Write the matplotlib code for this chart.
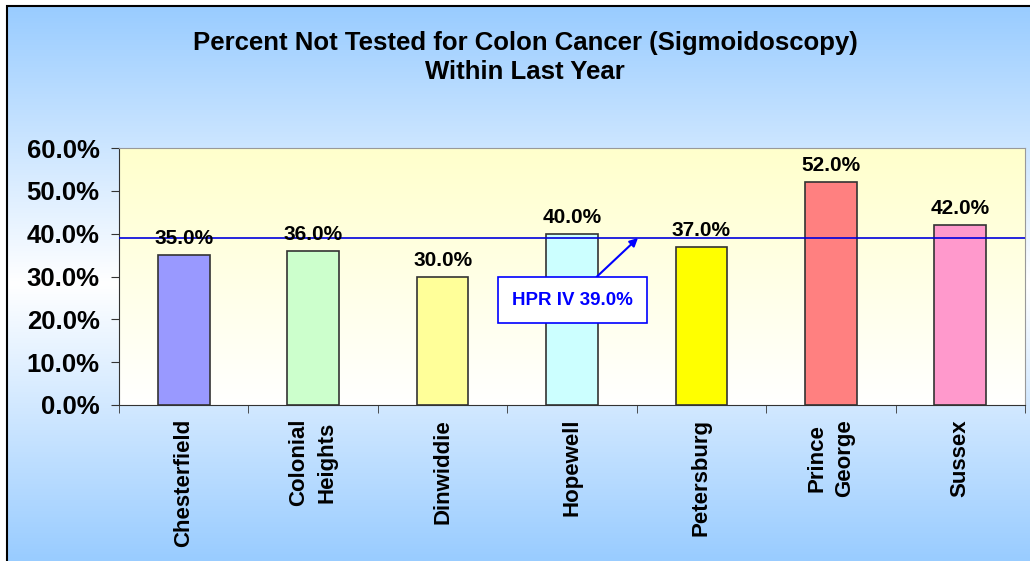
import numpy as np
import matplotlib
matplotlib.use("Agg")
import matplotlib.pyplot as plt
from matplotlib.colors import LinearSegmentedColormap
from matplotlib.patches import Rectangle

plt.rcParams["font.family"] = ["Liberation Sans", "DejaVu Sans"]
plt.rcParams["font.weight"] = "bold"

# Data
localities = ["Chesterfield", "Colonial\nHeights", "Dinwiddie", "Hopewell",
              "Petersburg", "Prince\nGeorge", "Sussex"]
pct_not_tested = [35.0, 36.0, 30.0, 40.0, 37.0, 52.0, 42.0]
bar_colors = ["#9999FF", "#CCFFCC", "#FFFF99", "#CCFFFF",
              "#FFFF00", "#FF8080", "#FF99CC"]
hpr_value = 39.0
hpr_label = "HPR IV 39.0%"

fig = plt.figure(figsize=(10.3, 5.61), dpi=100)
fig.patch.set_facecolor("white")

# Outer gradient background (blue - white - blue)
bg = fig.add_axes([7 / 1030, 0, 1 - 7 / 1030, 1 - 6 / 561], zorder=0)
bg_cmap = LinearSegmentedColormap.from_list(
    "bg", [(0, "#99CCFF"), (0.5, "#FFFFFF"), (1, "#99CCFF")])
bg.imshow(np.linspace(0, 1, 256).reshape(-1, 1), cmap=bg_cmap,
          aspect="auto", extent=[0, 1, 0, 1])
bg.set_axis_off()
fig.patches.append(Rectangle((7 / 1030, -0.01), 1, 1 - 6 / 561 + 0.01,
                             transform=fig.transFigure, fill=False,
                             edgecolor="black", linewidth=1.5, zorder=5))

ax = fig.add_axes([119 / 1030, 156 / 561, 906 / 1030, 257 / 561], zorder=1)
plot_cmap = LinearSegmentedColormap.from_list("plot", ["#FFFFFF", "#FFFFCC"])
ax.imshow(np.linspace(1, 0, 256).reshape(-1, 1), cmap=plot_cmap,
          aspect="auto", extent=[0, 1, 0, 1], transform=ax.transAxes, zorder=0)

x = np.arange(len(localities))
bars = ax.bar(x, pct_not_tested, width=0.4, color=bar_colors,
              edgecolor="#333333", linewidth=1.2, zorder=2)

for xi, v in zip(x, pct_not_tested):
    ax.annotate(f"{v:.1f}%", (xi, v), xytext=(0, 5), textcoords="offset points",
                ha="center", va="bottom", fontsize=15, fontweight="bold", zorder=4)

ax.axhline(hpr_value, color="#0000DD", linewidth=1.2, zorder=3)
ax.annotate(hpr_label, xy=(3.51, hpr_value), xytext=(3.0, 24.5),
            ha="center", va="center", color="#0000FF", fontsize=13.5,
            fontweight="bold", zorder=5,
            bbox=dict(boxstyle="square,pad=0.75", fc="white", ec="#0000FF", lw=1.2),
            arrowprops=dict(arrowstyle="-|>", color="#0000FF", lw=1.5,
                            mutation_scale=12, shrinkA=0, shrinkB=0))

ax.set_xlim(-0.5, len(localities) - 0.5)
ax.set_ylim(0, 60)
ax.set_yticks(np.arange(0, 61, 10))
ax.set_yticklabels([f"{t:.1f}%" for t in np.arange(0, 61, 10)],
                   fontsize=18.5, fontweight="bold")
ax.set_xticks(x)
ax.set_xticklabels(localities, rotation=90, fontsize=16, fontweight="bold",
                   va="top", ha="center", multialignment="center")
for lbl in ax.get_xticklabels():
    lbl.set_linespacing(1.45)
ax.set_xticks(np.arange(-0.5, len(localities), 1), minor=True)
ax.tick_params(axis="x", which="major", length=0, pad=10)
ax.tick_params(axis="x", which="minor", length=6, direction="out", color="#333333")
ax.tick_params(axis="y", length=6, direction="out", pad=8, color="#333333")

for side in ["top", "right"]:
    ax.spines[side].set_color("#999999")
for side in ["left", "bottom"]:
    ax.spines[side].set_color("#333333")

fig.text(0.51, 1 - 31 / 561,
         "Percent Not Tested for Colon Cancer (Sigmoidoscopy)\nWithin Last Year",
         ha="center", va="top", fontsize=18.5, fontweight="bold", linespacing=1.25)

fig.savefig("out.png", dpi=100)
